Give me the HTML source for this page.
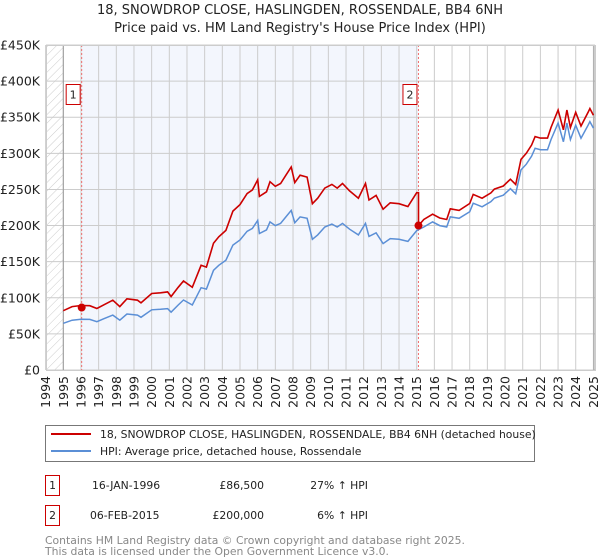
<!DOCTYPE html>
<html><head><meta charset="utf-8">
<style>
body{margin:0;background:#fff;font-family:"DejaVu Sans","Liberation Sans",sans-serif;}
#wrap{position:relative;width:600px;height:560px;overflow:hidden;}
svg text{font-family:"DejaVu Sans","Liberation Sans",sans-serif;}
</style></head>
<body><div id="wrap">
<svg id="chart" width="600" height="560" xmlns="http://www.w3.org/2000/svg">
<defs><pattern id="hatch" width="6" height="6" patternUnits="userSpaceOnUse" patternTransform="rotate(45)"><line x1="0" y1="0" x2="0" y2="6" stroke="#ccc" stroke-width="1"/></pattern></defs>
<text x="300" y="14" text-anchor="middle" font-size="13" fill="#222">18, SNOWDROP CLOSE, HASLINGDEN, ROSSENDALE, BB4 6NH</text>
<text x="300" y="32" text-anchor="middle" font-size="13" fill="#222">Price paid vs. HM Land Registry's House Price Index (HPI)</text>
<g id="plot"></g>
<rect x="45.5" y="425.5" width="489" height="36" fill="#fff" stroke="#777"/>
<line x1="51" y1="434" x2="91" y2="434" stroke="#cc0000" stroke-width="2"/>
<text x="100" y="438" font-size="10.8" fill="#222">18, SNOWDROP CLOSE, HASLINGDEN, ROSSENDALE, BB4 6NH (detached house)</text>
<line x1="51" y1="451" x2="91" y2="451" stroke="#5b8fd6" stroke-width="2"/>
<text x="100" y="455" font-size="10.8" fill="#222">HPI: Average price, detached house, Rossendale</text>
<g>
<rect x="45.5" y="475.5" width="14" height="20" fill="#fff" stroke="#cc0000"/>
<text x="52.5" y="489" text-anchor="middle" font-size="10.8" fill="#222">1</text>
<text x="92" y="489" font-size="10.8" fill="#222">16-JAN-1996</text>
<text x="264" y="489" text-anchor="end" font-size="10.8" fill="#222">£86,500</text>
<text x="368" y="489" text-anchor="end" font-size="10.8" fill="#222">27% ↑ HPI</text>
</g>
<g>
<rect x="45.5" y="505.5" width="14" height="20" fill="#fff" stroke="#cc0000"/>
<text x="52.5" y="519" text-anchor="middle" font-size="10.8" fill="#222">2</text>
<text x="90" y="519" font-size="10.8" fill="#222">06-FEB-2015</text>
<text x="264" y="519" text-anchor="end" font-size="10.8" fill="#222">£200,000</text>
<text x="368" y="519" text-anchor="end" font-size="10.8" fill="#222">6% ↑ HPI</text>
</g>
<text x="45" y="544" font-size="10.8" fill="#888">Contains HM Land Registry data © Crown copyright and database right 2025.</text>
<text x="45" y="555" font-size="10.8" fill="#888">This data is licensed under the Open Government Licence v3.0.</text>
</svg></div>
<script>
const hpiYears=[1995.0,1995.5,1996.0,1996.5,1996.9,1997.3,1997.8,1998.2,1998.6,1999.2,1999.4,2000.0,2000.5,2000.9,2001.1,2001.5,2001.8,2002.3,2002.8,2003.1,2003.5,2003.8,2004.2,2004.6,2005.0,2005.4,2005.7,2006.0,2006.1,2006.5,2006.7,2007.0,2007.3,2007.6,2007.9,2008.1,2008.4,2008.8,2009.1,2009.4,2009.8,2010.2,2010.5,2010.8,2011.2,2011.7,2012.1,2012.3,2012.7,2013.1,2013.5,2014.0,2014.5,2015.0,2015.4,2015.9,2016.3,2016.7,2016.9,2017.4,2018.0,2018.2,2018.7,2019.2,2019.4,2019.9,2020.3,2020.6,2020.9,2021.2,2021.5,2021.7,2022.0,2022.4,2022.6,2023.0,2023.3,2023.5,2023.7,2024.0,2024.3,2024.7,2024.8,2025.0];
const hpiValues=[64.6,69,70.2,70,66.9,71,76,69,77.5,76,73,83.3,84,85,80,90,96.9,90,114,112,138,145,152,173,180,192,196,207,189,194,205,200,203,212,221,204,212,210,181,187,198,202,198,203,195,187,203,185,190,175,182,181,178,193,198,205,200,198,212,210,219,231,226,233,238,242,251,244,277,285,296,307,305,305,319,342,316,342,319,339,321,339,344,335];
const saleYears=[1996.04,2015.1];
const salePrices=[86.5,200];
const saleLabels=['1','2'];
const yTicks=[0,50,100,150,200,250,300,350,400,450];
const yTickLabels=['£0','£50K','£100K','£150K','£200K','£250K','£300K','£350K','£400K','£450K'];
const xTicks=[1994,1995,1996,1997,1998,1999,2000,2001,2002,2003,2004,2005,2006,2007,2008,2009,2010,2011,2012,2013,2014,2015,2016,2017,2018,2019,2020,2021,2022,2023,2024,2025];

const L=46,R=595,T=45,B=370;
const X=y=>63.3+(y-1995)*17.67;
const Y=v=>B-v*(B-T)/450;
const ns='http://www.w3.org/2000/svg';
const g=document.getElementById('plot');
function mk(tag,at,parent){const e=document.createElementNS(ns,tag);for(const k in at)e.setAttribute(k,at[k]);(parent||g).appendChild(e);return e;}

let e=mk('rect',{x:L,y:T,width:R-L,height:B-T,fill:'#fff'});


e=mk('rect',{x:L,y:T,width:X(1995)-L,height:B-T,fill:'url(#hatch)'});


e=mk('rect',{x:X(saleYears[0]),y:T,width:X(saleYears[1])-X(saleYears[0]),height:B-T,fill:'#f3f6fd'});


for(const t of xTicks){
 e=mk('line',{x1:X(t),x2:X(t),y1:T,y2:B,stroke:'#ccc','stroke-width':1});
 
 
 e=mk('text',{x:0,y:0,transform:`translate(${X(t)+4.5},${B+6}) rotate(-90)`,'text-anchor':'end','font-size':12.5,fill:'#222'});
 e.textContent=t;
 
 
}
yTicks.forEach((v,i)=>{
 e=mk('line',{x1:L,x2:R,y1:Y(v),y2:Y(v),stroke:'#ccc','stroke-width':1});
 
 
 e=mk('text',{x:40,y:Y(v)+4.5,'text-anchor':'end','font-size':12.5,fill:'#222'});
 e.textContent=yTickLabels[i];
 
 
});
e=mk('line',{x1:X(1995),x2:X(1995),y1:T,y2:B,stroke:'#999'});


e=mk('line',{x1:R-1,x2:R-1,y1:T,y2:B,stroke:'#999'});


saleYears.forEach((s,i)=>{
 e=mk('line',{x1:X(s),x2:X(s),y1:T,y2:B,stroke:'#f07070','stroke-dasharray':'2,2'});
 
 
});
const ratio1=salePrices[0]/68, ratio2=salePrices[1]/190;
let hp='',rp='';
hpiYears.forEach((yr,i)=>{
 const v=hpiValues[i];
 hp+=(i?'L':'M')+X(yr).toFixed(1)+','+Y(v).toFixed(1);
 if(yr<saleYears[1]) rp+=(i?'L':'M')+X(yr).toFixed(1)+','+Y(v*ratio1).toFixed(1);
 else { if(hpiYears[i-1]<saleYears[1]){rp+='L'+X(saleYears[1]).toFixed(1)+','+Y(193*ratio1).toFixed(1)+'L'+X(saleYears[1]).toFixed(1)+','+Y(salePrices[1]).toFixed(1);}
   rp+='L'+X(yr).toFixed(1)+','+Y(v*ratio2).toFixed(1);}
});
e=mk('path',{d:hp,fill:'none',stroke:'#5b8fd6','stroke-width':1.5});


e=mk('path',{d:rp,fill:'none',stroke:'#cc0000','stroke-width':1.6});


saleYears.forEach((s,i)=>{
 e=mk('circle',{cx:X(s),cy:Y(salePrices[i]),r:4,fill:'#cc0000'});
 
 
 e=mk('rect',{x:X(s)-15.5,y:84.5,width:14,height:20,fill:'#fff',stroke:'#cc0000'});
 
 
 e=mk('text',{x:X(s)-8.5,y:98.5,'text-anchor':'middle','font-size':11,fill:'#222'});
 e.textContent=saleLabels[i];
 
 
});
e=mk('rect',{x:L+0.5,y:T+0.5,width:R-L,height:B-T,fill:'none',stroke:'#ccc'});


</script>
</body></html>
